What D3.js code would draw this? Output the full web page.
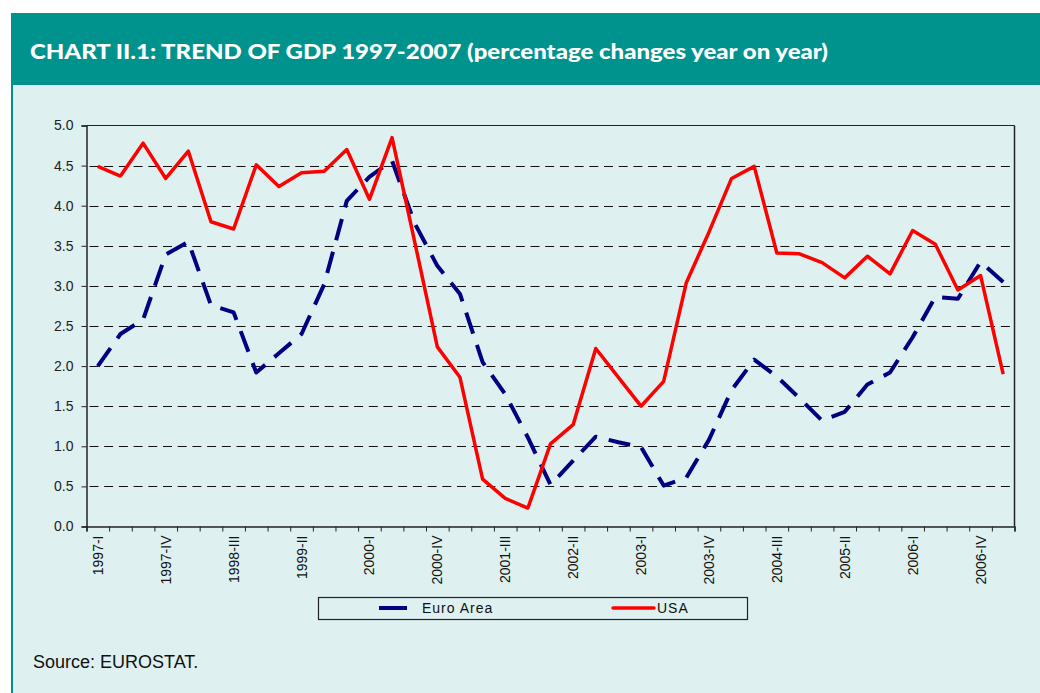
<!DOCTYPE html>
<html><head><meta charset="utf-8">
<script src="https://cdn.jsdelivr.net/npm/d3@7/dist/d3.min.js"></script>
<style>
html,body{margin:0;padding:0;background:#fff;}
svg{display:block;}
text{font-family:"Liberation Sans",Arial,sans-serif;}
</style></head><body>
<svg id="chart" width="1040" height="693"></svg>
<script>
const romans = ["I","II","III","IV"];
const categories = [];
for (let y = 1997; y <= 2006; y++) for (const r of romans) categories.push(y + "-" + r);
categories.push("2007-I");
const tickLabels = ["1997-I","1997-IV","1998-III","1999-II","2000-I","2000-IV","2001-III","2002-II","2003-I","2003-IV","2004-III","2005-II","2006-I","2006-IV"];
const yTicks = [0,0.5,1,1.5,2,2.5,3,3.5,4,4.5,5];
const euroArea = [2.00,2.40,2.58,3.39,3.55,2.76,2.67,1.92,2.16,2.40,3.02,4.06,4.36,4.56,3.78,3.25,2.90,2.05,1.65,1.11,0.52,0.82,1.12,1.05,0.99,0.51,0.61,1.08,1.70,2.08,1.87,1.60,1.32,1.43,1.77,1.92,2.36,2.86,2.84,3.30,3.05];
const usa = [4.49,4.37,4.78,4.34,4.68,3.80,3.71,4.51,4.24,4.41,4.43,4.70,4.08,4.85,3.55,2.24,1.86,0.59,0.35,0.23,1.03,1.27,2.22,1.86,1.50,1.81,3.04,3.67,4.34,4.49,3.41,3.40,3.29,3.10,3.37,3.15,3.69,3.52,2.95,3.13,1.90];
const seriesNames = ["Euro Area","USA"];
const titleText = "CHART II.1: TREND OF GDP 1997-2007 (percentage changes year on year)";
const sourceText = "Source: EUROSTAT.";

const svg = d3.select("#chart");
const BG = "#DEF0F0", TEAL = "#00938E";

// panel
svg.append("rect").attr("x",11).attr("y",13).attr("width",1029).attr("height",680).attr("fill",BG);
svg.append("rect").attr("x",11).attr("y",13).attr("width",2).attr("height",680).attr("fill",TEAL);
svg.append("rect").attr("x",11).attr("y",13).attr("width",1029).attr("height",72).attr("fill",TEAL);
svg.append("text").attr("x",30).attr("y",59).attr("fill","#fff")
  .style("font-family","Lato, 'Open Sans', sans-serif").style("font-weight","900").style("font-size","20px")
  .attr("textLength",798).attr("lengthAdjust","spacingAndGlyphs").text(titleText);

const L = 86.5, R = 1014.5, T = 125.5, B = 526.5;
const x = d3.scaleBand().domain(categories).range([L,R]).padding(0);
const xi = d3.scaleLinear().domain([0,categories.length]).range([L,R]);
const y = d3.scaleLinear().domain([0,5]).range([B,T]);
const cx = c => x(c) + x.bandwidth()/2;

// gridlines
svg.append("g").selectAll("line").data(yTicks.filter(v=>v>0 && v<5)).join("line")
  .attr("x1",L).attr("x2",R).attr("y1",d=>Math.round(y(d))+0.5).attr("y2",d=>Math.round(y(d))+0.5)
  .attr("stroke","#111").attr("stroke-width",1).attr("stroke-dasharray","9,5.7").attr("stroke-dashoffset",-3);

// frame top & right
svg.append("line").attr("x1",L).attr("x2",R).attr("y1",T).attr("y2",T).attr("stroke","#222");
svg.append("line").attr("x1",R).attr("x2",R).attr("y1",T).attr("y2",B).attr("stroke","#222").attr("stroke-width",1.5);

// y axis
const ya = svg.append("g").attr("transform",`translate(${L},0)`)
  .call(d3.axisLeft(y).tickValues(yTicks).tickFormat(d3.format(".1f")).tickSize(5).tickPadding(8));
ya.select(".domain").attr("stroke","#222").attr("stroke-width",1.5);
ya.selectAll(".tick line").attr("stroke","#222");
ya.selectAll("text").style("font-size","14px").style("font-family","'Liberation Sans',Arial,sans-serif").attr("fill","#222");

// x axis ticks at band boundaries
const xt = svg.append("g").attr("transform",`translate(0,${B})`)
  .call(d3.axisBottom(xi).ticks(categories.length).tickValues(d3.range(categories.length+1)).tickFormat("").tickSize(5));
xt.select(".domain").attr("stroke","#222").attr("stroke-width",1.5);
xt.selectAll(".tick line").attr("stroke","#222");

// x labels
const xl = svg.append("g").attr("transform",`translate(0,${B})`)
  .call(d3.axisBottom(x).tickValues(tickLabels).tickSize(0));
xl.select(".domain").remove();
xl.selectAll("text").attr("transform","rotate(-90)").attr("x",-9).attr("y",0).attr("dy","0.36em")
  .attr("text-anchor","end").style("font-size","14px").style("font-family","'Liberation Sans',Arial,sans-serif").attr("fill","#111");

// lines
const line = d3.line().x((d,i)=>cx(categories[i])).y(d=>y(d));
svg.append("path").datum(euroArea).attr("d",line).attr("fill","none").attr("stroke","#000080")
  .attr("stroke-width",4).attr("stroke-dasharray","22,12").attr("stroke-linejoin","round");
svg.append("path").datum(usa).attr("d",line).attr("fill","none").attr("stroke","#FF0000")
  .attr("stroke-width",3.5).attr("stroke-linejoin","round");

// legend
const lg = svg.append("g");
lg.append("rect").attr("x",318.5).attr("y",597.5).attr("width",429).attr("height",22).attr("fill","none").attr("stroke","#222").attr("stroke-width",1.2);
lg.append("line").attr("x1",379).attr("x2",407).attr("y1",608).attr("y2",608).attr("stroke","#000080").attr("stroke-width",4);
lg.append("text").attr("x",422).attr("y",613).style("font-size","14px").style("letter-spacing","1px").attr("fill","#111").text(seriesNames[0]);
lg.append("line").attr("x1",613).attr("x2",654).attr("y1",608).attr("y2",608).attr("stroke","#FF0000").attr("stroke-width",3.5).attr("stroke-linecap","round");
lg.append("text").attr("x",657).attr("y",613).style("font-size","14px").style("letter-spacing","1px").attr("fill","#111").text(seriesNames[1]);

// source
svg.append("text").attr("x",33).attr("y",668).style("font-size","18px").attr("fill","#111").text(sourceText);
</script>
</body></html>
